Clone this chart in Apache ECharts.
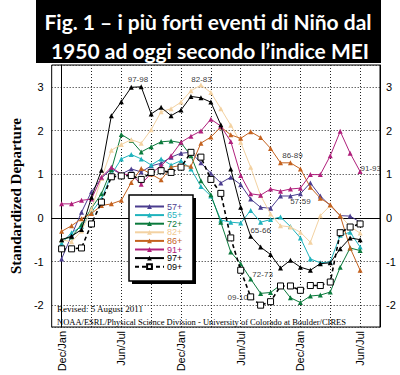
<!DOCTYPE html>
<html><head><meta charset="utf-8">
<script src="https://cdn.jsdelivr.net/npm/echarts@6/dist/echarts.min.js"></script>
<style>html,body{margin:0;padding:0;background:#fff}#c{width:400px;height:375px}</style>
</head><body><div id="c"></div>
<script>
// bimonthly seasons (MEI)
const seasons = ['Dec/Jan','Jan/Feb','Feb/Mar','Mar/Apr','Apr/May','May/Jun','Jun/Jul','Jul/Aug','Aug/Sep','Sep/Oct','Oct/Nov','Nov/Dec'];
const seriesNames = ['57+','65+','72+','82+','86+','91+','97+','09+'];
const s57 = [-0.94,-0.40,0.13,0.60,0.91,1.12,1.00,1.12,1.05,1.19,1.25,1.39,1.48,1.50,1.26,1.02,0.80,0.93,0.76,0.43,0.24,0.22,0.50,0.50,0.55,0.80,0.50,0.28,0.05,0.04,-0.10];
const s65 = [-0.58,-0.34,-0.20,0.13,0.43,0.99,1.35,1.45,1.35,1.21,1.35,1.21,1.31,1.12,0.72,0.50,-0.05,-0.10,-0.12,0.17,-0.10,-0.04,0.02,-0.20,-0.46,-0.94,-1.03,-1.01,-0.40,-0.33,-0.67];
const s72 = [-0.50,-0.44,-0.15,0.22,0.55,1.10,1.91,1.77,1.51,1.63,1.74,1.76,1.72,1.42,0.85,0.53,-0.10,-0.78,-1.05,-1.40,-1.73,-1.71,-1.54,-1.83,-1.94,-1.79,-1.77,-1.70,-1.13,-0.69,-0.75];
const s82 = [-0.50,-0.55,-0.30,0.20,0.90,1.55,1.68,1.79,1.71,2.02,2.43,2.50,2.65,2.91,3.04,2.87,2.50,2.12,1.73,1.16,0.51,0.09,-0.18,-0.21,-0.33,-0.56,0.05,0.28,0.05,-0.20,-0.35];
const s86 = [-0.31,-0.18,-0.02,0.10,0.28,0.32,0.40,0.81,1.13,1.00,0.87,1.16,1.20,1.18,1.71,1.85,2.08,1.90,1.82,1.97,1.84,1.59,1.26,1.26,1.12,0.70,0.45,0.30,0.05,-0.69,-1.20];
const s91 = [0.32,0.32,0.40,0.43,0.93,1.16,1.00,0.99,0.77,1.02,1.19,1.42,1.73,1.87,1.99,2.26,2.10,1.75,0.97,0.55,0.52,0.66,0.61,0.66,0.68,0.99,0.99,1.42,1.98,1.48,1.06];
const s97 = [-0.50,-0.42,-0.27,0.47,1.09,2.34,2.66,2.99,3.00,2.38,2.53,2.34,2.47,2.78,2.75,2.65,2.13,1.12,0.24,-0.42,-0.67,-0.84,-1.15,-0.97,-1.13,-1.20,-1.05,-1.03,-0.71,-0.46,-0.50];
const s09 = [-0.71,-0.71,-0.69,-0.14,0.36,0.94,0.96,0.97,0.88,1.04,1.08,1.04,1.16,1.50,1.39,0.88,0.56,-0.46,-1.20,-1.81,-2.00,-1.92,-1.56,-1.56,-1.66,-1.55,-1.55,-1.47,-0.34,-0.21,-0.14];
const seriesValues = [s57,s65,s72,s82,s86,s91,s97,s09];
// event labels: text, season index, value
const eventLabels = ['97-98','82-83','86-89','57-59','65-66','72-73','09-10','91-93'];
const eventX = [7.67,14.06,23.2,24.0,20.0,20.2,17.7,31.07];
const eventY = [3.17,3.17,1.42,0.37,-0.30,-1.30,-1.83,1.14];
const titleLines = ['Fig. 1 \u2013 i più forti eventi di Niño dal','1950 ad oggi secondo l\u2019indice MEI'];
const footnotes = ['Revised: 5 August 2011','NOAA/ESRL/Physical Science Division - University of Colorado at Boulder/CIRES'];

const colors = ['#4b3d8f','#1fb3bd','#0b7a3c','#f3d2a2','#c4621f','#b0207c','#000000','#000000'];
const textColors = ['#4b3d8f','#1fb3bd','#0b7a3c','#f0c890','#c4621f','#b0207c','#000000','#000000'];

// categories from position -1 to 32
const cats = [];
for (let k = -1; k <= 32; k++) cats.push(seasons[((k % 12) + 12) % 12] + (k < 0 ? ' ' : ''));

const series = seriesNames.map((n, si) => {
  const isDash = n === '09+';
  return {
    name: n, type: 'line', xAxisIndex: 0, yAxisIndex: 0,
    data: [null].concat(seriesValues[si]),
    symbol: isDash ? 'rect' : 'triangle',
    symbolSize: isDash ? 6 : 5,
    showAllSymbol: true,
    lineStyle: { color: colors[si], width: isDash ? 1.6 : 1, type: isDash ? [4, 3] : 'solid' },
    itemStyle: isDash ? { color: '#fff', borderColor: '#000', borderWidth: 1 } : { color: colors[si] },
    emphasis: { disabled: true },
    animation: false,
    z: 2 + si
  };
});
series.push({
  type: 'scatter', xAxisIndex: 1, yAxisIndex: 0, symbolSize: 0, animation: false, silent: true,
  data: eventLabels.map((t, i) => ({ value: [eventX[i], eventY[i]], label: { formatter: t } })),
  label: { show: true, position: 'inside', fontSize: 8, color: '#000', fontFamily: 'Liberation Sans' },
  z: 20
});

const chart = echarts.init(document.getElementById('c'), null, { renderer: 'svg' });
chart.setOption({
  animation: false,
  grid: { left: 44, right: 20, top: 65, bottom: 48, show: true, borderColor: '#000', borderWidth: 1 },
  xAxis: [{
    type: 'category', data: cats, boundaryGap: false,
    axisLine: { lineStyle: { color: '#000' } }, axisTick: { show: false },
    axisLabel: { interval: (idx) => idx >= 1 && idx <= 31 && (idx - 1) % 6 === 0, rotate: 90, fontSize: 11, color: '#000', margin: 4, fontFamily: 'Liberation Sans', formatter: (v) => v.trim() },
    splitLine: { show: true, interval: (idx) => idx >= 1 && idx <= 31 && (idx - 1) % 3 === 0, lineStyle: { type: [1, 2], color: '#222', width: 1 } }
  }, {
    type: 'value', min: -1, max: 32, show: false, position: 'bottom'
  }],
  yAxis: [{
    type: 'value', min: -2.5, max: 3.5, splitNumber: 6,
    name: 'Standardized Departure', nameLocation: 'middle', nameGap: 28, nameRotate: 90,
    nameTextStyle: { fontFamily: 'Liberation Serif', fontWeight: 'bold', fontSize: 15, color: '#000' },
    axisLine: { show: true, lineStyle: { color: '#000' } }, axisTick: { show: false },
    axisLabel: { showMinLabel: false, showMaxLabel: false, fontSize: 11, color: '#000', margin: 8, fontFamily: 'Liberation Sans' },
    splitLine: { show: true, lineStyle: { type: [1, 2], color: '#222', width: 1 } }
  }, {
    type: 'value', min: -2.5, max: 3.5, splitNumber: 6, position: 'right',
    axisLine: { show: true, lineStyle: { color: '#000' } }, axisTick: { show: false },
    axisLabel: { showMinLabel: false, showMaxLabel: false, fontSize: 11, color: '#000', margin: 6, fontFamily: 'Liberation Sans' },
    splitLine: { show: false }
  }],
  legend: {
    orient: 'vertical', left: 134, top: 202, padding: 0,
    itemWidth: 29, itemHeight: 6, itemGap: -0.4,
    textStyle: { fontSize: 9, fontFamily: 'Liberation Sans', lineHeight: 9, height: 9, padding: [0, 0, 0, -2] },
    data: seriesNames.map((n, i) => ({ name: n, textStyle: { color: textColors[i] } })),
    selectedMode: false, z: 110
  },
  graphic: [
    { type: 'rect', shape: { x: 132, y: 198, width: 64, height: 86 }, style: { fill: '#000' }, z: 100 },
    { type: 'rect', shape: { x: 129, y: 195, width: 64, height: 86 }, style: { fill: '#fff', stroke: '#000', lineWidth: 1.5 }, z: 101 },
    { type: 'rect', shape: { x: 36, y: 0, width: 345, height: 63 }, style: { fill: '#000' }, z: 100 },
    { type: 'text', x: 208, y: 21, style: { text: titleLines[0], fill: '#fff', font: 'bold 21px Lato', align: 'center', verticalAlign: 'middle' }, z: 101 },
    { type: 'text', x: 210, y: 50, style: { text: titleLines[1], fill: '#fff', font: 'bold 21px Lato', align: 'center', verticalAlign: 'middle' }, z: 101 },
    { type: 'text', x: 57, y: 309, style: { text: footnotes[0], fill: '#000', font: '9px "Liberation Serif"', verticalAlign: 'middle' }, z: 50 },
    { type: 'text', x: 57, y: 322, style: { text: footnotes[1], fill: '#000', font: '8.5px "Liberation Serif"', verticalAlign: 'middle' }, z: 50 }
  ],
  series: series
});
</script></body></html>
